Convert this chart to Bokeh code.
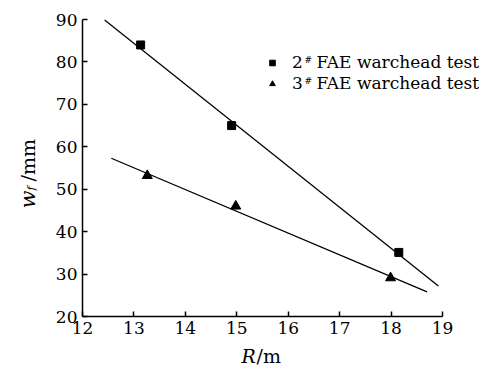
import math
from bokeh.plotting import figure
from bokeh.models import Range1d, FixedTicker, Legend, LegendItem, Label, LinearAxis
from bokeh.embed import file_html
from bokeh.resources import INLINE

# ---- data ----
r_2 = [13.13, 14.90, 18.15]
w_2 = [84.0, 65.0, 35.1]
r_3 = [13.26, 14.98, 17.99]
w_3 = [53.2, 46.0, 29.1]
fit_r_2 = [12.43, 18.92]
fit_w_2 = [89.9, 27.2]
fit_r_3 = [12.56, 18.70]
fit_w_3 = [57.3, 25.8]
x_ticks = [12, 13, 14, 15, 16, 17, 18, 19]
y_ticks = [20, 30, 40, 50, 60, 70, 80, 90]
series_names = ["2", "3"]
series_rest = "FAE warchead test"

FONT = "DejaVu Serif"

# canvas / axes geometry (canvas px)
W, H = 488, 379
AX_L, AX_R, AX_T, AX_B = 82, 442, 19, 316
X0, X1, Y0, Y1 = 12, 19, 20, 90
SX = (AX_R - AX_L) / (X1 - X0)
SY = (AX_B - AX_T) / (Y1 - Y0)

def dx(px):
    return X0 + (px - AX_L) / SX

def dy(py):
    return Y1 - (py - AX_T) / SY

p = figure(width=W, height=H, min_border=0,
           x_range=Range1d(dx(0), dx(W)), y_range=Range1d(dy(H), dy(0)),
           x_axis_type=None, y_axis_type=None,
           output_backend="svg", toolbar_location=None)
p.outline_line_color = None
p.background_fill_color = "white"
p.border_fill_color = "white"

xaxis = LinearAxis(ticker=FixedTicker(ticks=x_ticks), bounds=(X0, X1),
                   fixed_location=Y0)
yaxis = LinearAxis(ticker=FixedTicker(ticks=y_ticks), bounds=(Y0, Y1),
                   fixed_location=X0)
for ax in (xaxis, yaxis):
    ax.major_tick_in = 5
    ax.major_tick_out = 0
    ax.minor_tick_line_color = None
    ax.axis_line_width = 1.5
    ax.major_tick_line_width = 1.5
    ax.axis_line_color = "black"
    ax.major_tick_line_color = "black"
    ax.major_label_text_font = FONT
    ax.major_label_text_font_size = "17px"
    ax.major_label_text_color = "black"
    ax.major_label_standoff = 5
p.add_layout(xaxis, "below")
p.add_layout(yaxis, "left")

p.line(fit_r_2, fit_w_2, line_color="black", line_width=1.3)
p.line(fit_r_3, fit_w_3, line_color="black", line_width=1.3)
s2 = p.scatter(r_2, w_2, marker="square", size=8, color="black")
s3 = p.scatter(r_3, w_3, marker="triangle", size=10, color="black")

legend = Legend(items=[LegendItem(label=series_names[0], renderers=[s2]),
                       LegendItem(label=series_names[1], renderers=[s3])],
                location=(265, H - 93.5),
                padding=0, margin=0, spacing=0,
                glyph_width=14, glyph_height=21, label_height=21,
                label_standoff=13,
                label_text_font=FONT, label_text_font_size="17px",
                label_text_color="black",
                border_line_color=None, background_fill_alpha=0)
p.add_layout(legend, "center")

row_y = [61.5, 82.5]
for yy in row_y:
    p.add_layout(Label(x=dx(304), y=dy(yy - 7), text="#", text_font=FONT,
                       text_font_size="9px", text_baseline="top",
                       text_color="black"))
    p.add_layout(Label(x=dx(316), y=dy(yy), text=series_rest, text_font=FONT,
                       text_font_size="17px", text_baseline="middle",
                       text_color="black"))

# x axis label: R/m
p.add_layout(Label(x=dx(241), y=dy(355), text="R", text_font=FONT,
                   text_font_style="italic", text_font_size="19px",
                   text_baseline="middle", text_color="black"))
p.add_layout(Label(x=dx(256), y=dy(355), text="/m", text_font=FONT,
                   text_font_size="19px", text_baseline="middle",
                   text_color="black"))

# y axis label: w_f/mm (rotated)
p.add_layout(Label(x=dx(27), y=dy(208), text="w", text_font=FONT,
                   text_font_style="italic", text_font_size="21px",
                   angle=math.pi / 2, text_baseline="alphabetic",
                   text_align="left", text_color="black"))
p.add_layout(Label(x=dx(31), y=dy(190), text="f", text_font=FONT,
                   text_font_style="italic", text_font_size="11px",
                   angle=math.pi / 2, text_baseline="alphabetic",
                   text_align="left", text_color="black"))
p.add_layout(Label(x=dx(27), y=dy(181), text="/mm", text_font=FONT,
                   text_font_size="19px",
                   angle=math.pi / 2, text_baseline="alphabetic",
                   text_align="left", text_color="black"))

open("out.html", "w").write(file_html(p, INLINE))
